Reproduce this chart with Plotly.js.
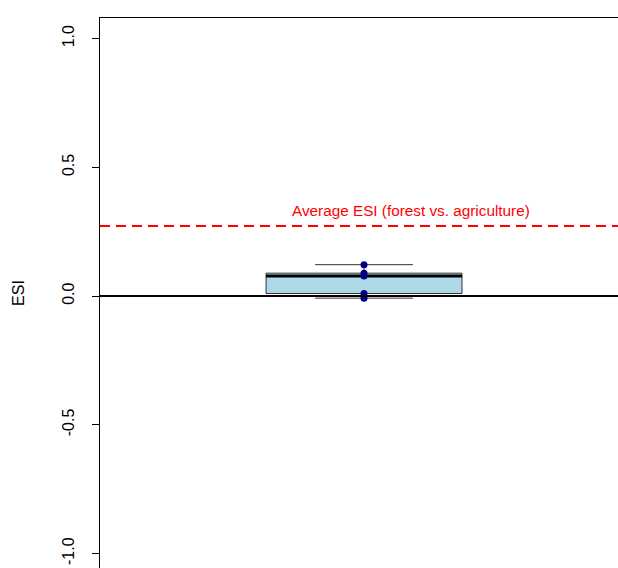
<!DOCTYPE html>
<html>
<head>
<meta charset="utf-8">
<script src="https://cdn.plot.ly/plotly-3.0.1.min.js"></script>
<style>html,body{margin:0;padding:0;background:#fff;}#chart{width:618px;height:568px;}</style>
</head>
<body>
<div id="chart"></div>
<script>
// ---- data ----
var groupPos = [1];
var esiValues = [0.122, 0.089, 0.078, 0.010, -0.008];
var avgESI = 0.272;
var avgLabel = "Average ESI (forest vs. agriculture)";
var yTickVals = [-1, -0.5, 0, 0.5, 1];
var yTickText = ["-1.0", "-0.5", "0.0", "0.5", "1.0"];
var yTitle = "ESI";

// ---- helpers ----
function median(a){var s=a.slice().sort(function(p,q){return p-q;});var n=s.length;return n%2?s[(n-1)/2]:(s[n/2-1]+s[n/2])/2;}
var boxWidth = 0.8;
var med = median(esiValues);
var pos = groupPos[0];

var traces = [
  {
    type: 'box',
    y: esiValues,
    x: esiValues.map(function(){return pos;}),
    width: boxWidth,
    whiskerwidth: 0.5,
    boxpoints: false,
    fillcolor: '#ADD8E6',
    line: {color: '#333333', width: 1},
    quartilemethod: 'inclusive',
    hoverinfo: 'skip',
    showlegend: false
  },
  {
    type: 'scatter', mode: 'lines',
    x: [pos - boxWidth/2, pos + boxWidth/2],
    y: [med, med],
    line: {color: '#000000', width: 3},
    hoverinfo: 'skip', showlegend: false
  },
  {
    type: 'scatter', mode: 'markers',
    x: esiValues.map(function(){return pos;}),
    y: esiValues,
    marker: {color: '#00008B', size: 7},
    hoverinfo: 'skip', showlegend: false
  }
];

var layout = {
  width: 618, height: 568,
  margin: {l: 100, r: 0, t: 18, b: 0},
  paper_bgcolor: '#ffffff', plot_bgcolor: '#ffffff',
  font: {family: 'Liberation Sans, Arial, sans-serif', color: '#000000'},
  showlegend: false,
  xaxis: {
    range: [-0.078, 2.037],
    side: 'top',
    showline: true, linecolor: '#000000', linewidth: 1,
    showgrid: false, zeroline: false,
    ticks: '', showticklabels: false
  },
  yaxis: {
    range: [-1.056, 1.08],
    showline: true, linecolor: '#000000', linewidth: 1,
    showgrid: false, zeroline: false,
    ticks: 'outside', ticklen: 7, tickcolor: '#000000', tickwidth: 1,
    tickvals: yTickVals, ticktext: yTickText,
    tickangle: -90,
    tickfont: {size: 16, color: '#000000'},
    ticklabelstandoff: 12,
    title: {text: yTitle, font: {size: 16, color: '#000000'}, standoff: 30}
  },
  shapes: [
    {type: 'line', xref: 'paper', x0: 0, x1: 1, yref: 'y', y0: 0, y1: 0,
     line: {color: '#000000', width: 2}, layer: 'above'},
    {type: 'line', xref: 'paper', x0: 0, x1: 1, yref: 'y', y0: avgESI, y1: avgESI,
     line: {color: '#FF0000', width: 2, dash: '10px,6px'}, layer: 'above'}
  ],
  annotations: [
    {x: 1.19, y: avgESI + 0.06, xref: 'x', yref: 'y', text: avgLabel, showarrow: false,
     font: {size: 15.3, color: '#FF0000'}, xanchor: 'center', yanchor: 'middle'}
  ]
};

Plotly.newPlot('chart', traces, layout, {displayModeBar: false, staticPlot: true});
</script>
</body>
</html>
